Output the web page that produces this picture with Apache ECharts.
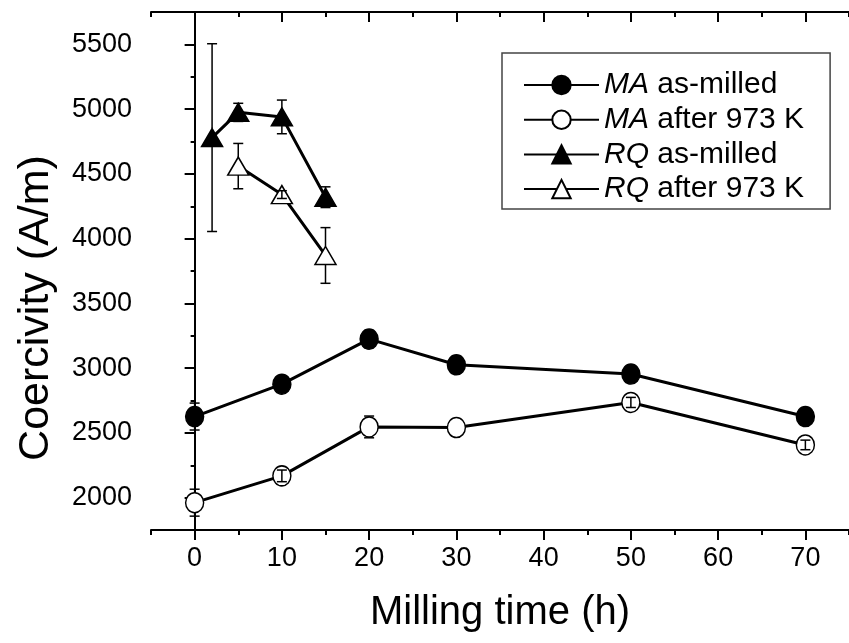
<!DOCTYPE html>
<html>
<head>
<meta charset="utf-8">
<script src="https://cdn.jsdelivr.net/npm/echarts@6/dist/echarts.min.js"></script>
<style>
  html, body { margin: 0; padding: 0; background: #fff; }
  #chart { width: 849px; height: 643px; }
</style>
</head>
<body>
<div id="chart"></div>
<script>
  // milling time (h)
  const maTime = [0, 10, 20, 30, 50, 70];
  const rqMilledTime = [2, 5, 10, 15];
  const rqAnnealedTime = [5, 10, 15];

  // coercivity (A/m) and error bars
  const maMilled = [2626, 2876, 3224, 3026, 2954, 2626];
  const maMilledErr = [104, 30, 67, 64, 30, 30];
  const maAnnealed = [1961, 2168, 2546, 2541, 2735, 2407];
  const maAnnealedErr = [104, 45, 84, 0, 39, 37];
  const rqMilled = [4780, 4975, 4940, 4320];
  const rqMilledErr = [725, 70, 130, 80];
  const rqAnnealed = [4560, 4340, 3870];
  const rqAnnealedErr = [175, 30, 215];

  const xMajor = [0, 10, 20, 30, 40, 50, 60, 70];
  const xMinor = [-5, 5, 15, 25, 35, 45, 55, 65, 75];
  const yMajor = [2000, 2500, 3000, 3500, 4000, 4500, 5000, 5500];
  const yMinor = [1750, 2250, 2750, 3250, 3750, 4250, 4750, 5250, 5750];

  const font = '"Liberation Sans", Arial, sans-serif';
  const black = '#000';

  const zip = (xs, ys) => xs.map((x, i) => [x, ys[i]]);
  const zip3 = (xs, ys, es) => xs.map((x, i) => [x, ys[i], es[i]]);

  function errorBars(name, data, half) {
    return {
      type: 'custom',
      name: name + ' err',
      z: 10,
      silent: true,
      data: data,
      renderItem: function (params, api) {
        const x = api.value(0), y = api.value(1), e = api.value(2);
        if (!e) return null;
        const c = api.coord([x, y]);
        const t = api.coord([x, y + e]);
        const b = api.coord([x, y - e]);
        const style = { stroke: black, lineWidth: 1.5 };
        const children = [];
        if (c[1] - t[1] > half) {
          children.push({ type: 'line', shape: { x1: c[0], y1: t[1], x2: c[0], y2: c[1] - half }, style });
          children.push({ type: 'line', shape: { x1: c[0], y1: c[1] + half, x2: c[0], y2: b[1] }, style });
        } else {
          children.push({ type: 'line', shape: { x1: c[0], y1: t[1], x2: c[0], y2: b[1] }, style });
        }
        children.push({ type: 'line', shape: { x1: c[0] - 5, y1: t[1], x2: c[0] + 5, y2: t[1] }, style });
        children.push({ type: 'line', shape: { x1: c[0] - 5, y1: b[1], x2: c[0] + 5, y2: b[1] }, style });
        return { type: 'group', children };
      }
    };
  }

  function lineSeries(name, data, symbol, size, filled) {
    return {
      type: 'line',
      name: name,
      data: data,
      symbol: symbol,
      symbolSize: size,
      showAllSymbol: true,
      z: 5,
      lineStyle: { color: black, width: 3 },
      itemStyle: {
        color: filled ? black : '#fff',
        borderColor: black,
        borderWidth: 1.5,
        opacity: 1
      }
    };
  }

  function axisBase(extra) {
    return Object.assign({
      type: 'value',
      splitLine: { show: false },
      axisLine: { show: true, lineStyle: { color: black, width: 2 } },
      axisLabel: { show: false },
      axisTick: { show: true, lineStyle: { color: black, width: 2 } }
    }, extra);
  }

  const xRange = { min: -5, max: 75 };
  const yRange = { min: 1750, max: 5750 };
  const plain = v => String(v);

  const chart = echarts.init(document.getElementById('chart'));

  chart.setOption({
    animation: false,
    backgroundColor: '#fff',
    grid: { left: 151, top: 12, right: -8, bottom: 113 },
    xAxis: [
      axisBase(Object.assign({
        position: 'bottom',
        name: 'Milling time (h)',
        nameLocation: 'middle',
        nameGap: 63,
        nameTextStyle: { fontSize: 40, color: black, fontFamily: font },
        axisTick: { show: true, length: 10, customValues: xMajor, lineStyle: { color: black, width: 2 } },
        axisLabel: { show: true, customValues: xMajor, formatter: plain, fontSize: 27, color: black, fontFamily: font, margin: 15 }
      }, xRange)),
      axisBase(Object.assign({
        position: 'bottom',
        axisLine: { show: false },
        axisTick: { show: true, length: 5, customValues: xMinor, lineStyle: { color: black, width: 2 } }
      }, xRange)),
      axisBase(Object.assign({
        position: 'top',
        axisTick: { show: true, inside: true, length: 10, customValues: xMajor, lineStyle: { color: black, width: 2 } }
      }, xRange)),
      axisBase(Object.assign({
        position: 'top',
        axisLine: { show: false },
        axisTick: { show: true, inside: true, length: 5, customValues: xMinor, lineStyle: { color: black, width: 2 } }
      }, xRange))
    ],
    yAxis: [
      axisBase(Object.assign({
        position: 'left',
        axisTick: { show: true, length: 9, customValues: yMajor, lineStyle: { color: black, width: 2 } },
        axisLabel: { show: true, customValues: yMajor, formatter: plain, fontSize: 27, color: black, fontFamily: font, margin: 19 }
      }, yRange)),
      axisBase(Object.assign({
        position: 'left',
        axisLine: { show: false },
        axisTick: { show: true, length: 4, customValues: yMinor, lineStyle: { color: black, width: 2 } }
      }, yRange)),
      axisBase(Object.assign({
        position: 'right',
        axisTick: { show: true, inside: true, length: 10, customValues: yMajor, lineStyle: { color: black, width: 2 } }
      }, yRange)),
      axisBase(Object.assign({
        position: 'right',
        axisLine: { show: false },
        axisTick: { show: true, inside: true, length: 4, customValues: yMinor, lineStyle: { color: black, width: 2 } }
      }, yRange))
    ],
    graphic: [{
      type: 'text',
      x: 36,
      y: 308,
      rotation: Math.PI / 2,
      style: {
        text: 'Coercivity (A/m)',
        fontSize: 43,
        fontFamily: font,
        fill: black,
        align: 'center',
        verticalAlign: 'middle'
      }
    }],
    legend: {
      orient: 'vertical',
      left: 502,
      top: 53,
      padding: [17, 26, 5, 21],
      itemWidth: 75,
      itemHeight: 23,
      itemGap: 4.7,
      borderColor: '#444',
      borderWidth: 1.5,
      data: ['MA as-milled', 'MA after 973 K', 'RQ as-milled', 'RQ after 973 K'],
      formatter: function (name) {
        const i = name.indexOf(' ');
        return '{i|' + name.slice(0, i) + '}' + name.slice(i);
      },
      textStyle: {
        fontSize: 30,
        lineHeight: 30,
        color: black,
        fontFamily: font,
        rich: { i: { fontStyle: 'italic', fontSize: 30, lineHeight: 30, color: black, fontFamily: font } }
      }
    },
    series: [
      lineSeries('MA as-milled', zip(maTime, maMilled), 'circle', [18, 20], true),
      lineSeries('MA after 973 K', zip(maTime, maAnnealed), 'circle', [18, 20], false),
      lineSeries('RQ as-milled', zip(rqMilledTime, rqMilled), 'triangle', [21, 18], true),
      lineSeries('RQ after 973 K', zip(rqAnnealedTime, rqAnnealed), 'triangle', [21, 18], false),
      errorBars('MA as-milled', zip3(maTime, maMilled, maMilledErr), 10),
      errorBars('MA after 973 K', zip3(maTime, maAnnealed, maAnnealedErr), 10),
      errorBars('RQ as-milled', zip3(rqMilledTime, rqMilled, rqMilledErr), 9),
      errorBars('RQ after 973 K', zip3(rqAnnealedTime, rqAnnealed, rqAnnealedErr), 9)
    ]
  });
</script>
</body>
</html>
